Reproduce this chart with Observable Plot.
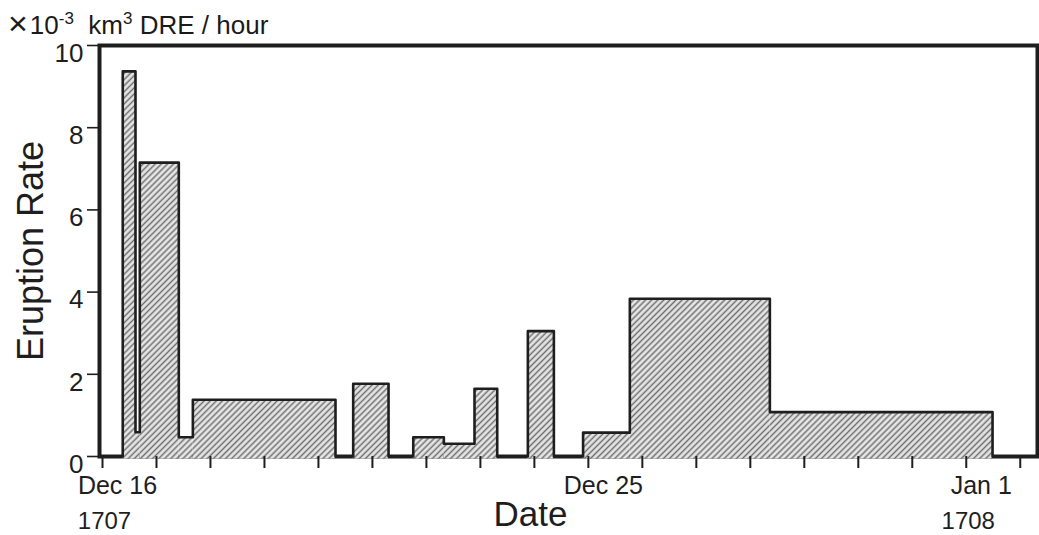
<!DOCTYPE html>
<html><head><meta charset="utf-8">
<script src="https://cdn.jsdelivr.net/npm/d3@7"></script>
<script src="https://cdn.jsdelivr.net/npm/@observablehq/plot@0.6"></script>
<style>
body{margin:0;background:#fff;}
#wrap{position:relative;width:1039px;height:535px;font-family:"Liberation Sans",Arial,sans-serif;color:#1a1a1a;}
#unit{position:absolute;left:8px;top:9px;font-size:26px;line-height:26px;white-space:nowrap;}
#unit .x{font-size:34px;font-weight:300;position:relative;top:1px;margin-right:2px;}
#unit sup{font-size:17px;vertical-align:0;position:relative;top:-10px;}
#chart{position:absolute;left:0;top:0;}
</style></head><body>
<div id="wrap"><div id="chart"></div><div id="unit"><span class="x">×</span>10<sup>-3</sup>&nbsp; km<sup>3</sup> DRE / hour</div></div>
<script>
// Eruption phases (UTC-style timestamps), rate in 10^-3 km^3 DRE / hour
const segStart = ["1707-12-16T09:00","1707-12-16T14:40","1707-12-16T16:35","1707-12-17T09:55","1707-12-17T16:10",
  "1707-12-20T15:27","1707-12-21T18:09","1707-12-22T07:45","1707-12-22T21:23","1707-12-23T21:06",
  "1707-12-24T21:39","1707-12-25T18:26","1707-12-28T08:41"];
const segEnd = ["1707-12-16T14:40","1707-12-16T16:35","1707-12-17T09:55","1707-12-17T16:10","1707-12-20T07:35",
  "1707-12-21T07:10","1707-12-22T07:45","1707-12-22T21:23","1707-12-23T07:29","1707-12-24T08:40",
  "1707-12-25T18:26","1707-12-28T08:41","1708-01-01T11:41"];
const rate = [9.37, 0.59, 7.15, 0.47, 1.38, 1.77, 0.47, 0.31, 1.65, 3.05, 0.58, 3.84, 1.08];

const xDomain = ["1707-12-15T22:40", "1708-01-02T07:40"];
const monthTickDates = ["1707-12-16T00:00", "1707-12-25T00:00", "1708-01-01T00:00"];
const monthTickText = ["Dec 16", "Dec 25", "Jan 1"];
const yearTickDates = ["1707-12-16T00:00", "1708-01-01T00:00"];
const yearTickText = ["1707", "1708"];
const yTicks = [0, 2, 4, 6, 8, 10];
const xLabel = "Date";
const yLabel = "Eruption Rate";

const P = s => new Date(s + ":00Z");
const segments = rate.map((r, i) => ({start: P(segStart[i]), end: P(segEnd[i]), rate: r}));

// outline of the step function, one group per contiguous run
const outline = [];
let g = -1, prevEnd = null;
segments.forEach((s, i) => {
  if (prevEnd === null || +s.start > +prevEnd) { g++; outline.push({t: s.start, v: 0, g}); }
  outline.push({t: s.start, v: s.rate, g});
  const next = segments[i + 1];
  if (!next || +next.start > +s.end) outline.push({t: s.end, v: 0, g});
  prevEnd = s.end;
});

const dom = xDomain.map(P);
const dayTicks = d3.utcDay.range(d3.utcDay.ceil(dom[0]), dom[1]);
const monthDates = monthTickDates.map(P);
const monthMap = new Map(monthDates.map((d, i) => [+d, monthTickText[i]]));
const yearDates = yearTickDates.map(P);
const yearMap = new Map(yearDates.map((d, i) => [+d, yearTickText[i]]));

const ink = "#1e1e1e";
const svg = Plot.plot({
  width: 1039, height: 535,
  marginLeft: 99, marginRight: 2, marginTop: 45, marginBottom: 79,
  style: {fontFamily: '"Liberation Sans", Arial, sans-serif', color: ink, background: "transparent"},
  x: {type: "utc", domain: dom},
  y: {domain: [0, 10]},
  marks: [
    Plot.frame({stroke: ink, strokeWidth: 4}),
    Plot.rectY(segments, {x1: "start", x2: "end", y: "rate", fill: "url(#hatch)", insetBottom: -2.5}),
    Plot.line(outline, {x: "t", y: "v", z: "g", curve: "step-after", stroke: ink, strokeWidth: 2.6}),
    Plot.axisY({ticks: yTicks, tickSize: 12, tickFormat: () => "", strokeWidth: 1.6, label: null}),
    Plot.axisY({ticks: yTicks, tickSize: 0, tickPadding: 16, dy: 8, fontSize: 26, label: null}),
    Plot.axisX({ticks: dayTicks, tickSize: 12, tickFormat: () => "", strokeWidth: 2, label: null}),
    Plot.axisX({ticks: monthDates, tickSize: 0, tickPadding: 20, dx: 15, fontSize: 25, tickFormat: d => monthMap.get(+d), label: null}),
    Plot.axisX({ticks: yearDates, tickSize: 0, tickPadding: 55, dx: 2, fontSize: 24, tickFormat: d => yearMap.get(+d), label: null}),
    Plot.text([xLabel], {text: d => d, frameAnchor: "bottom", textAnchor: "middle", dx: -38, dy: 58, fontSize: 35, lineAnchor: "middle", fill: ink}),
    Plot.text([yLabel], {text: d => d, frameAnchor: "left", textAnchor: "middle", rotate: -90, dx: -68, fontSize: 36, lineAnchor: "middle", fill: ink})
  ]
});

const defs = d3.select(svg).insert("defs", ":first-child");
const pat = defs.append("pattern").attr("id", "hatch").attr("patternUnits", "userSpaceOnUse")
  .attr("width", 4.3).attr("height", 4.3).attr("patternTransform", "rotate(45)");
pat.append("rect").attr("width", 4.3).attr("height", 4.3).attr("fill", "#e6e6e6");
pat.append("line").attr("x1", 2.15).attr("y1", 0).attr("x2", 2.15).attr("y2", 4.3).attr("stroke", "#6e6e6e").attr("stroke-width", 1.5);

document.getElementById("chart").appendChild(svg);
</script>
</body></html>
